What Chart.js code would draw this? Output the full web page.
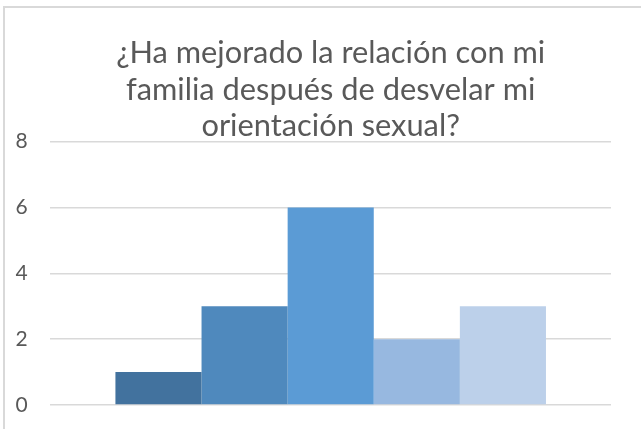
<!DOCTYPE html>
<html>
<head>
<meta charset="utf-8">
<script src="https://cdn.jsdelivr.net/npm/chart.js@4.4.1/dist/chart.umd.min.js"></script>
<style>
  html, body { margin: 0; padding: 0; background: #ffffff; }
  #wrap { position: relative; width: 641px; height: 429px; overflow: hidden; }
  #frame { position: absolute; left: 3px; top: 6px; width: 800px; height: 600px;
           border-left: 2px solid #d9d9d9; border-top: 2px solid #d9d9d9; box-sizing: border-box; }
  canvas { position: absolute; left: 0; top: 0; }
</style>
</head>
<body>
<div id="wrap">
  <div id="frame"></div>
  <canvas id="c" width="641" height="429"></canvas>
</div>
<script>
const titleLines = ["¿Ha mejorado la relación con mi", "familia después de desvelar mi", "orientación sexual?"];
const categories = [""];
const seriesNames = ["Serie 1", "Serie 2", "Serie 3", "Serie 4", "Serie 5"];
const seriesValues = [1, 3, 6, 2, 3];
const seriesColors = ["#42729e", "#4f89bd", "#5b9bd5", "#97b8e0", "#bcd0ea"];
const yTicks = [0, 2, 4, 6, 8];

// font sizing: title first line as wide as in the reference
const mctx = document.createElement('canvas').getContext('2d');
mctx.font = '100px Lato';
const w100 = mctx.measureText(titleLines[0]).width;
const titleSize = Math.max(20, Math.min(34, 100 * 429 / w100));
const titleLH = 36.5;
const middleOffset = 0.387 * titleSize;
const padTop = 65 - middleOffset - titleLH / 2;
const padBottom = 141.7 - (padTop + 3 * titleLH);

const tickSize = 21;
mctx.font = tickSize + 'px Lato';
const tickW = Math.max(...yTicks.map(v => mctx.measureText(String(v)).width));
const areaLeft = 50.4, labelLeft = 15.5;
const tickPad = (areaLeft - labelLeft - tickW) / 2;
const bottomPad = (429 - 406.4) - tickSize * 1.2 / 2;

const datasets = seriesNames.map((name, i) => ({
  label: name,
  data: [seriesValues[i]],
  backgroundColor: seriesColors[i],
  borderWidth: 0,
  barPercentage: 1.0,
  categoryPercentage: 0.768
}));

new Chart(document.getElementById('c'), {
  type: 'bar',
  data: { labels: categories, datasets: datasets },
  options: {
    responsive: false,
    animation: false,
    layout: { padding: { left: labelLeft, right: 30, top: 0, bottom: bottomPad } },
    plugins: {
      legend: { display: false },
      tooltip: { enabled: false },
      title: {
        display: true,
        fullSize: false,
        text: titleLines,
        color: '#595959',
        font: { family: 'Lato', size: titleSize, weight: 'normal', lineHeight: titleLH + 'px' },
        padding: { top: padTop, bottom: padBottom }
      }
    },
    scales: {
      x: { display: false },
      y: {
        min: yTicks[0],
        max: yTicks[yTicks.length - 1],
        afterBuildTicks: (axis) => { axis.ticks = yTicks.map(v => ({ value: v })); },
        border: { display: false },
        grid: { color: '#d9d9d9', lineWidth: 1.5, drawTicks: false },
        ticks: { color: '#595959', padding: tickPad, crossAlign: 'far', font: { family: 'Lato', size: tickSize } }
      }
    }
  }
});
</script>
</body>
</html>
